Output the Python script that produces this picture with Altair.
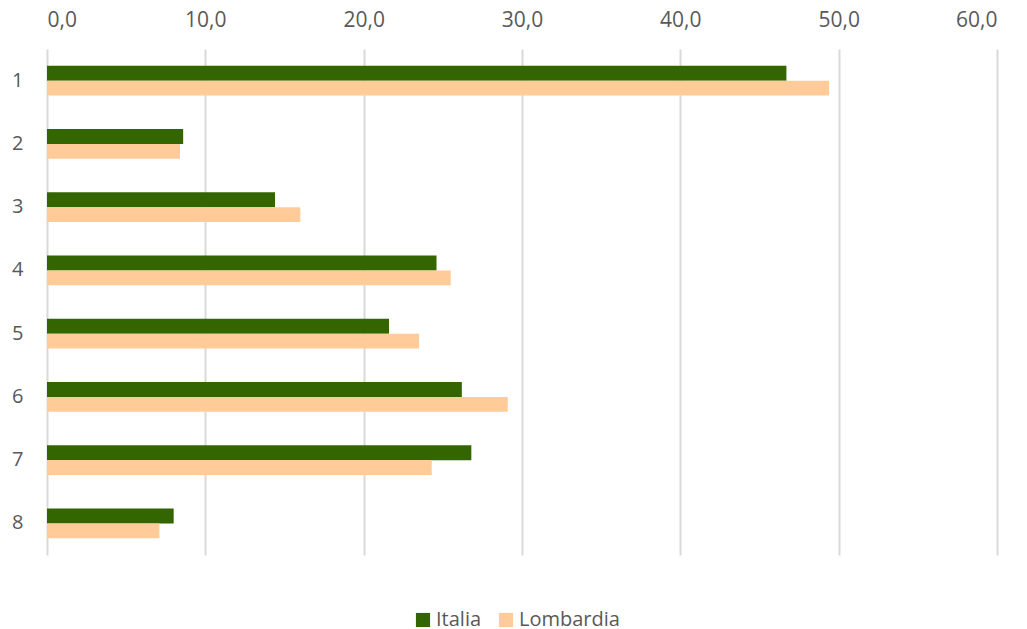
import altair as alt
import pandas as pd

categories = ["1", "2", "3", "4", "5", "6", "7", "8"]
italia = [46.7, 8.6, 14.4, 24.6, 21.6, 26.2, 26.8, 8.0]
lombardia = [49.4, 8.4, 16.0, 25.5, 23.5, 29.1, 24.3, 7.1]
series = ["Italia", "Lombardia"]
colors = ["#336600", "#FFCC99"]
x_ticks = [0, 10, 20, 30, 40, 50, 60]

rows = []
for c, a, b in zip(categories, italia, lombardia):
    rows.append({"cat": c, "serie": "Italia", "val": a})
    rows.append({"cat": c, "serie": "Lombardia", "val": b})
df = pd.DataFrame(rows)

font = "Open Sans"

chart = alt.Chart(df).mark_bar().encode(
    x=alt.X("val:Q",
            scale=alt.Scale(domain=[0, 60], nice=False),
            axis=alt.Axis(orient="top", values=x_ticks,
                          labelExpr="replace(format(datum.value, '.1f'), '.', ',')",
                          title=None, domain=False, ticks=False,
                          grid=True, gridColor="#d9d9d9", gridWidth=2,
                          labelFont=font, labelFontSize=21, labelColor="#595959",
                          labelPadding=19)),
    y=alt.Y("cat:N", sort=categories,
            scale=alt.Scale(paddingInner=0.53, paddingOuter=0.265),
            axis=alt.Axis(title=None, domain=False, ticks=False, grid=False,
                          labelFont=font, labelFontSize=20, labelColor="#595959",
                          labelPadding=24)),
    yOffset=alt.YOffset("serie:N", sort=series),
    color=alt.Color("serie:N", sort=series,
                    scale=alt.Scale(domain=series, range=colors),
                    legend=alt.Legend(title=None, orient="none", direction="horizontal",
                                      legendX=366, legendY=561,
                                      symbolType="square", symbolSize=200,
                                      symbolStrokeWidth=0,
                                      labelFont=font, labelFontSize=20,
                                      labelColor="#595959", columnPadding=14,
                                      labelOffset=3)),
).properties(
    width=950, height=506,
    background="white",
    autosize=alt.AutoSizeParams(type="none"),
    padding={"left": 47, "top": 49, "right": 30, "bottom": 74},
).configure_view(strokeWidth=0)

chart.save("out.html", embed_options={"renderer": "svg", "actions": False})
